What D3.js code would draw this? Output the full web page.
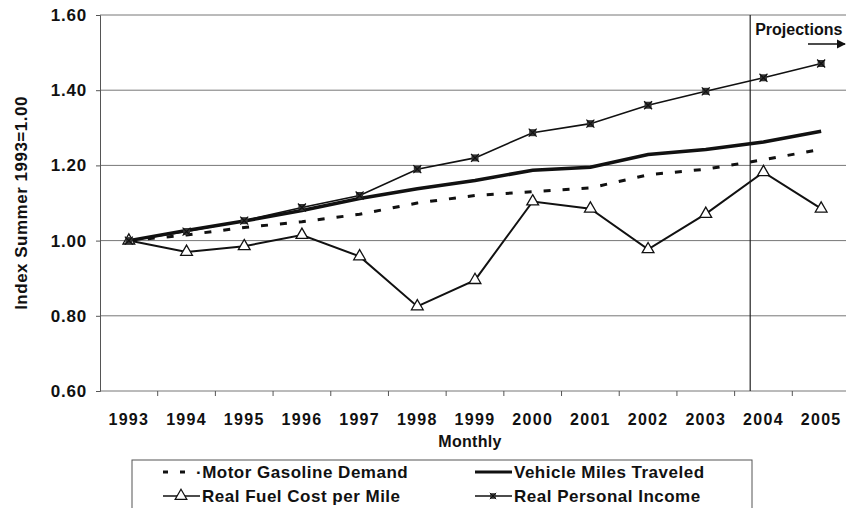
<!DOCTYPE html>
<html>
<head>
<meta charset="utf-8">
<script src="https://cdn.jsdelivr.net/npm/d3@7"></script>
<style>
  body { margin: 0; background: #fff; }
  svg { display: block; font-family: "Liberation Sans", Arial, sans-serif; font-weight: bold; }
  .tick-label { font-size: 16px; fill: #111; }
  .axis-label { font-size: 16px; fill: #111; }
  .legend-text { font-size: 17px; fill: #111; letter-spacing: 0.5px; }
</style>
</head>
<body>
<div id="chart"></div>
<script>
// data
const years = ["1993", "1994", "1995", "1996", "1997", "1998", "1999", "2000", "2001", "2002", "2003", "2004", "2005"];
const gasolineDemand = [1.00, 1.015, 1.035, 1.05, 1.07, 1.10, 1.12, 1.13, 1.14, 1.175, 1.19, 1.215, 1.243];
const vehicleMiles = [1.00, 1.027, 1.052, 1.08, 1.112, 1.138, 1.16, 1.187, 1.195, 1.229, 1.242, 1.262, 1.291];
const fuelCost = [1.00, 0.97, 0.985, 1.015, 0.958, 0.825, 0.895, 1.104, 1.085, 0.977, 1.071, 1.182, 1.085];
const personalIncome = [1.00, 1.024, 1.053, 1.088, 1.12, 1.19, 1.22, 1.287, 1.311, 1.36, 1.397, 1.433, 1.471];
const yTicks = [0.60, 0.80, 1.00, 1.20, 1.40, 1.60];
const projectionStart = "2004";

const width = 846;
const height = 508;
const plot = { left: 100, right: 850, top: 15, bottom: 391 };
const ink = "#111";

const svg = d3.select("#chart")
    .append("svg")
    .attr("width", width)
    .attr("height", height)
    .attr("viewBox", `0 0 ${width} ${height}`);

svg.append("rect")
    .attr("width", width)
    .attr("height", height)
    .attr("fill", "#fff");

// scales
const xScale = d3.scaleBand()
    .domain(years)
    .range([plot.left, plot.right])
    .padding(0);
const bw = xScale.bandwidth();
const cx = (d, i) => xScale(years[i]) + bw / 2;

const yScale = d3.scaleLinear()
    .domain([0.6, 1.6])
    .range([plot.bottom, plot.top]);

// horizontal gridlines
svg.append("g")
    .selectAll("line")
    .data(yTicks)
    .join("line")
        .attr("x1", plot.left)
        .attr("x2", plot.right)
        .attr("y1", d => yScale(d))
        .attr("y2", d => yScale(d))
        .attr("stroke", "#777")
        .attr("stroke-width", 1);

// y axis
const leftAxis = d3.axisLeft(yScale)
    .tickValues(yTicks)
    .tickFormat(d3.format(".2f"))
    .tickSize(4)
    .tickPadding(9);

const yAxisG = svg.append("g")
    .attr("transform", `translate(${plot.left},0)`)
    .call(leftAxis);
yAxisG.select(".domain").attr("stroke", "#555");
yAxisG.selectAll(".tick line").attr("stroke", "#555");
yAxisG.selectAll(".tick text")
    .attr("class", "tick-label")
    .attr("font-family", null)
    .attr("font-size", null)
    .style("font-size", "17px")
    .style("letter-spacing", "0.8px");

// x axis: labels at band centres, ticks at band edges
const bottomAxis = d3.axisBottom(xScale)
    .tickSize(0)
    .tickPadding(23);

const xAxisG = svg.append("g")
    .attr("transform", `translate(0,${plot.bottom})`)
    .call(bottomAxis);
xAxisG.select(".domain").remove();
xAxisG.selectAll(".tick text")
    .attr("class", "tick-label")
    .attr("font-family", null)
    .attr("font-size", null)
    .style("letter-spacing", "1.3px");

svg.append("g")
    .selectAll("line")
    .data(years.slice(1))
    .join("line")
        .attr("x1", d => xScale(d))
        .attr("x2", d => xScale(d))
        .attr("y1", plot.bottom)
        .attr("y2", plot.bottom + 5)
        .attr("stroke", "#555");

// axis titles
svg.append("text")
    .attr("class", "axis-label")
    .attr("text-anchor", "middle")
    .attr("transform", "translate(27,203) rotate(-90)")
    .style("font-size", "17px")
    .style("letter-spacing", "0.5px")
    .text("Index Summer 1993=1.00");

svg.append("text")
    .attr("class", "axis-label")
    .attr("text-anchor", "middle")
    .attr("x", 470)
    .attr("y", 447)
    .style("letter-spacing", "0.3px")
    .text("Monthly");

// projection marker
const projX = xScale(projectionStart) + bw * 0.27;
svg.append("line")
    .attr("x1", projX)
    .attr("x2", projX)
    .attr("y1", plot.top)
    .attr("y2", plot.bottom)
    .attr("stroke", "#222")
    .attr("stroke-width", 1.2);

svg.append("text")
    .attr("class", "axis-label")
    .attr("x", projX + 5)
    .attr("y", 35)
    .text("Projections");

svg.append("defs")
    .append("marker")
    .attr("id", "arrow")
    .attr("viewBox", "0 0 10 10")
    .attr("refX", 9)
    .attr("refY", 5)
    .attr("markerWidth", 7)
    .attr("markerHeight", 7)
    .attr("orient", "auto")
    .append("path")
        .attr("d", "M0,0 L10,5 L0,10 Z")
        .attr("fill", ink);

svg.append("line")
    .attr("x1", 808)
    .attr("x2", 845)
    .attr("y1", 44)
    .attr("y2", 44)
    .attr("stroke", ink)
    .attr("stroke-width", 1.3)
    .attr("marker-end", "url(#arrow)");

// lines
const lineGen = d3.line()
    .x(cx)
    .y(d => yScale(d));

svg.append("path")
    .datum(gasolineDemand)
    .attr("d", lineGen)
    .attr("fill", "none")
    .attr("stroke", ink)
    .attr("stroke-width", 3)
    .attr("stroke-dasharray", "7,12");

svg.append("path")
    .datum(vehicleMiles)
    .attr("d", lineGen)
    .attr("fill", "none")
    .attr("stroke", ink)
    .attr("stroke-width", 3.5);

svg.append("path")
    .datum(personalIncome)
    .attr("d", lineGen)
    .attr("fill", "none")
    .attr("stroke", ink)
    .attr("stroke-width", 1.6);

svg.append("path")
    .datum(fuelCost)
    .attr("d", lineGen)
    .attr("fill", "none")
    .attr("stroke", ink)
    .attr("stroke-width", 2);

// markers
const triangle = d3.symbol().type(d3.symbolTriangle).size(60);

const drawIncomeMarker = (g) => {
    g.append("rect")
        .attr("x", -3.5).attr("y", -3.5)
        .attr("width", 7).attr("height", 7)
        .attr("fill", "#333");
    g.append("path")
        .attr("d", "M-4,-4 L4,4 M-4,4 L4,-4")
        .attr("stroke", ink)
        .attr("stroke-width", 1.2);
};

svg.append("g")
    .selectAll("path")
    .data(fuelCost)
    .join("path")
        .attr("d", triangle)
        .attr("transform", (d, i) => `translate(${cx(d, i)},${yScale(d)})`)
        .attr("fill", "#fff")
        .attr("stroke", ink)
        .attr("stroke-width", 1.3);

svg.append("g")
    .selectAll("g")
    .data(personalIncome)
    .join("g")
        .attr("transform", (d, i) => `translate(${cx(d, i)},${yScale(d)})`)
        .each(function () { drawIncomeMarker(d3.select(this)); });

// legend
const legend = svg.append("g");

legend.append("rect")
    .attr("x", 132)
    .attr("y", 460)
    .attr("width", 620)
    .attr("height", 70)
    .attr("fill", "#fff")
    .attr("stroke", "#555");

const legendItems = [
    { label: "Motor Gasoline Demand", x: 163, y: 472, type: "dash" },
    { label: "Vehicle Miles Traveled", x: 475, y: 472, type: "thick" },
    { label: "Real Fuel Cost per Mile", x: 163, y: 496, type: "triangle" },
    { label: "Real Personal Income", x: 475, y: 496, type: "income" }
];

legendItems.forEach(item => {
    const g = legend.append("g").attr("transform", `translate(${item.x},${item.y})`);
    const sample = g.append("line")
        .attr("x1", 0)
        .attr("x2", item.type === "dash" ? 22 : 37)
        .attr("stroke", ink);
    if (item.type === "dash") {
        sample.attr("stroke-width", 3).attr("stroke-dasharray", "5,12");
    } else if (item.type === "thick") {
        sample.attr("stroke-width", 3);
    } else if (item.type === "triangle") {
        sample.attr("stroke-width", 1.5);
        g.append("path")
            .attr("d", triangle)
            .attr("transform", "translate(18,0)")
            .attr("fill", "#fff")
            .attr("stroke", ink)
            .attr("stroke-width", 1.2);
    } else {
        sample.attr("stroke-width", 1.3);
        const m = g.append("g").attr("transform", "translate(18,0) scale(0.8)");
        drawIncomeMarker(m);
    }
    g.append("text")
        .attr("class", "legend-text")
        .attr("x", item.type === "dash" ? 33 : 39)
        .attr("dy", "0.36em")
        .text(item.type === "dash" ? "\u00b7" + item.label : item.label);
});
</script>
</body>
</html>
